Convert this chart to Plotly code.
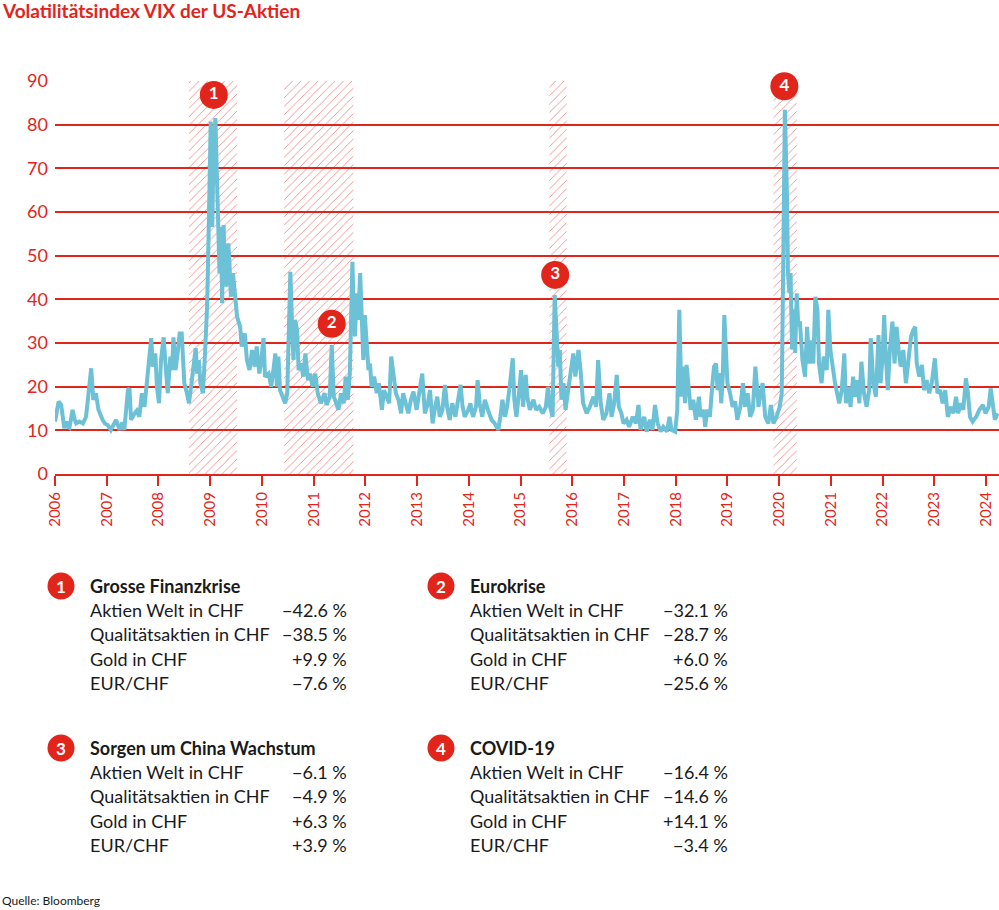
import plotly.graph_objects as go

RED = "#e1251b"
BLUE = "#6cc1d6"
INK = "#1a1a1a"
FONT = "Lato"

# ---- data: chart position (decimal year as placed on the chart) and VIX level ----
pos = [
    2006.00, 2006.03, 2006.07, 2006.12, 2006.18, 2006.22, 2006.25, 2006.28, 2006.34, 2006.38,
    2006.41, 2006.47, 2006.54, 2006.60, 2006.65, 2006.70, 2006.74, 2006.79, 2006.84, 2006.88,
    2006.92, 2006.97, 2007.02, 2007.08, 2007.13, 2007.18, 2007.25, 2007.30, 2007.34, 2007.41,
    2007.44, 2007.47, 2007.54, 2007.58, 2007.63, 2007.68, 2007.73, 2007.79, 2007.83, 2007.86,
    2007.89, 2007.94, 2007.97, 2008.01, 2008.05, 2008.10, 2008.14, 2008.18, 2008.23, 2008.26,
    2008.29, 2008.33, 2008.37, 2008.41, 2008.45, 2008.47, 2008.50, 2008.55, 2008.59, 2008.63,
    2008.68, 2008.72, 2008.75, 2008.78, 2008.81, 2008.86, 2008.90, 2008.94, 2008.96, 2008.99,
    2009.01, 2009.04, 2009.06, 2009.10, 2009.12, 2009.15, 2009.18, 2009.21, 2009.23, 2009.26,
    2009.28, 2009.31, 2009.35, 2009.37, 2009.40, 2009.44, 2009.48,
    2009.52, 2009.58, 2009.61, 2009.67, 2009.71, 2009.76, 2009.81, 2009.86, 2009.90, 2009.95,
    2009.99, 2010.03, 2010.06, 2010.13, 2010.18, 2010.23, 2010.26, 2010.29, 2010.32, 2010.35,
    2010.40, 2010.45, 2010.49, 2010.51, 2010.55, 2010.58, 2010.61, 2010.64, 2010.68, 2010.71,
    2010.76, 2010.80, 2010.84, 2010.89, 2010.93, 2010.98, 2011.03, 2011.08, 2011.14, 2011.21,
    2011.25, 2011.31, 2011.35, 2011.39, 2011.43, 2011.48, 2011.53, 2011.58, 2011.62, 2011.66,
    2011.70, 2011.72, 2011.75, 2011.77, 2011.80, 2011.83, 2011.86, 2011.90, 2011.93, 2011.96,
    2011.99, 2012.03, 2012.06, 2012.09, 2012.12, 2012.17, 2012.22, 2012.26, 2012.32, 2012.36,
    2012.41, 2012.46, 2012.50, 2012.54, 2012.59, 2012.64, 2012.69, 2012.73, 2012.78, 2012.83,
    2012.88, 2012.93, 2012.99,
    2013.10, 2013.15, 2013.21, 2013.25, 2013.30, 2013.34, 2013.39, 2013.44, 2013.49, 2013.54,
    2013.58, 2013.63, 2013.68, 2013.74, 2013.79, 2013.84, 2013.88, 2013.92, 2013.99, 2014.03,
    2014.08, 2014.14, 2014.17, 2014.21, 2014.26, 2014.31, 2014.37, 2014.44, 2014.50, 2014.57,
    2014.61, 2014.65, 2014.70, 2014.74, 2014.79, 2014.85, 2014.88, 2014.92, 2014.97, 2015.01,
    2015.05, 2015.10, 2015.13, 2015.18, 2015.25, 2015.30, 2015.36, 2015.43, 2015.49, 2015.53,
    2015.57, 2015.62, 2015.66, 2015.70, 2015.73, 2015.76, 2015.79, 2015.83, 2015.87, 2015.92,
    2015.97, 2016.02, 2016.06, 2016.12, 2016.16, 2016.21, 2016.28, 2016.34, 2016.41, 2016.46,
    2016.50, 2016.55, 2016.60, 2016.66, 2016.72, 2016.76, 2016.81, 2016.86, 2016.90, 2016.95,
    2016.99, 2017.05, 2017.10, 2017.17, 2017.23, 2017.28, 2017.32, 2017.39, 2017.44, 2017.50,
    2017.55, 2017.60, 2017.65, 2017.71, 2017.76, 2017.83, 2017.88, 2017.92, 2017.99, 2018.03,
    2018.07, 2018.11, 2018.15, 2018.18, 2018.21, 2018.25, 2018.29, 2018.34, 2018.39, 2018.45,
    2018.48, 2018.54, 2018.57, 2018.61, 2018.66, 2018.70, 2018.74, 2018.78, 2018.81, 2018.85,
    2018.88, 2018.91, 2018.94, 2018.97, 2019.00, 2019.05, 2019.10, 2019.15, 2019.19, 2019.25,
    2019.30, 2019.34, 2019.39, 2019.44, 2019.49, 2019.54, 2019.57, 2019.60, 2019.63, 2019.68,
    2019.73, 2019.79, 2019.84, 2019.89, 2019.95, 2020.01, 2020.05, 2020.06, 2020.07, 2020.08,
    2020.11, 2020.13, 2020.15, 2020.17, 2020.20, 2020.22, 2020.25, 2020.28, 2020.31, 2020.34,
    2020.37, 2020.40, 2020.45, 2020.50, 2020.54, 2020.58, 2020.63, 2020.66, 2020.70, 2020.74,
    2020.77, 2020.82, 2020.86, 2020.92, 2020.95, 2020.99, 2021.03, 2021.08, 2021.12, 2021.16,
    2021.21, 2021.26, 2021.29, 2021.34, 2021.38, 2021.43, 2021.47, 2021.51, 2021.55, 2021.59,
    2021.64, 2021.69, 2021.74, 2021.77, 2021.82, 2021.87, 2021.92, 2021.96, 2022.00, 2022.03,
    2022.06, 2022.10, 2022.14, 2022.19, 2022.23, 2022.27, 2022.31, 2022.35, 2022.40, 2022.45,
    2022.50, 2022.55, 2022.59, 2022.63, 2022.66, 2022.71, 2022.76, 2022.80, 2022.85, 2022.90,
    2022.95, 2023.01, 2023.06, 2023.11, 2023.16, 2023.21, 2023.26, 2023.32, 2023.37, 2023.42,
    2023.46, 2023.51, 2023.56, 2023.61, 2023.65, 2023.69, 2023.74, 2023.81, 2023.87, 2023.94,
    2023.99, 2024.05, 2024.09, 2024.13, 2024.17, 2024.22,
]

vix = [
    12.0, 14.5, 16.6, 15.8, 10.5, 12.0, 10.8, 10.6, 14.7, 12.5,
    11.6, 12.0, 11.6, 13.1, 18.5, 24.2, 17.0, 18.5, 14.7, 13.5,
    12.4, 11.5, 11.2, 10.1, 11.5, 12.4, 10.1, 11.8, 10.1, 19.2,
    19.6, 12.4, 13.9, 14.5, 13.1, 18.5, 15.4, 22.3, 26.9, 31.1,
    24.6, 27.6, 20.0, 16.2, 26.1, 31.3, 24.6, 18.5, 26.9, 23.8,
    31.3, 23.8, 27.6, 32.2, 32.2, 26.1, 20.8, 18.5, 16.2, 20.0,
    24.6, 28.8, 23.0, 26.1, 20.8, 18.5, 27.6, 38.3, 49.0, 70.4,
    80.7, 56.6, 70.4, 81.5, 70.4, 59.0, 46.0, 56.6, 39.1, 57.0,
    47.5, 42.9, 52.8, 49.0, 40.6, 46.0, 40.0,
    36.0, 33.7, 29.2, 32.2, 26.1, 23.8, 28.4, 24.6, 29.2, 23.0,
    26.1, 31.1, 22.3, 23.0, 20.0, 24.6, 27.6, 20.0, 26.9, 19.2,
    17.7, 16.2, 18.5, 27.6, 46.3, 35.3, 26.1, 35.3, 33.0, 23.8,
    25.3, 22.3, 27.6, 21.5, 23.0, 20.0, 23.0, 18.5, 16.2, 18.5,
    15.8, 17.7, 29.5, 17.7, 16.2, 14.7, 18.5, 16.2, 22.3, 17.0,
    23.0, 31.5, 48.6, 39.1, 31.5, 41.4, 35.3, 46.0, 31.5, 26.1,
    36.4, 29.2, 23.8, 25.3, 20.0, 22.3, 18.5, 20.8, 14.7, 19.2,
    17.7, 16.2, 26.9, 22.3, 18.5, 17.0, 13.9, 18.5, 16.2, 13.9,
    17.0, 18.9, 14.7,
    23.0, 13.9, 16.2, 19.2, 11.6, 14.7, 17.7, 13.1, 14.7, 20.4,
    15.4, 12.4, 16.2, 13.1, 17.0, 20.4, 15.4, 13.1, 14.7, 16.2,
    13.1, 15.4, 21.5, 16.2, 13.1, 17.0, 14.7, 12.4, 11.6, 10.1,
    13.1, 17.0, 13.1, 15.4, 20.0, 26.5, 17.0, 13.1, 18.5, 23.8,
    15.4, 22.7, 17.7, 14.7, 17.0, 14.7, 15.4, 13.9, 15.4, 20.0,
    15.4, 13.1, 41.0, 32.2, 24.6, 28.4, 17.0, 20.8, 14.7, 19.2,
    23.8, 27.6, 22.3, 28.4, 23.8, 16.2, 13.9, 15.4, 17.7, 15.4,
    26.1, 16.2, 12.4, 13.9, 18.5, 13.1, 16.2, 22.7, 15.4, 13.9,
    11.6, 12.4, 10.8, 13.1, 11.6, 15.8, 10.1, 13.1, 9.7, 12.4,
    10.1, 15.8, 11.6, 9.7, 10.8, 9.7, 13.1, 10.1, 9.7, 14.7,
    37.6, 17.7, 24.6, 16.2, 25.0, 19.2, 14.7, 17.0, 12.4, 17.7,
    13.1, 14.7, 10.8, 14.7, 13.1, 19.2, 24.6, 25.3, 19.2, 23.1,
    16.2, 22.3, 36.4, 28.4, 20.8, 18.5, 15.4, 16.6, 12.4, 15.4,
    20.8, 15.4, 18.5, 13.1, 14.7, 24.6, 20.0, 15.4, 17.7, 20.8,
    13.1, 11.6, 15.8, 11.6, 13.1, 15.4, 18.5, 25.0, 39.9, 49.0,
    83.4, 75.7, 64.3, 46.0, 41.4, 46.0, 28.5, 37.6, 27.7, 41.4,
    33.8, 35.0, 26.1, 22.3, 33.7, 25.3, 30.6, 25.3, 40.6, 37.6,
    25.3, 20.8, 26.9, 23.8, 37.6, 28.4, 24.6, 20.8, 18.5, 16.2,
    19.2, 27.6, 16.2, 20.0, 15.4, 22.3, 17.7, 21.5, 16.2, 25.7,
    18.5, 15.4, 19.2, 31.1, 20.8, 17.7, 31.8, 20.8, 26.9, 36.4,
    27.6, 19.2, 28.4, 34.9, 25.3, 33.7, 28.4, 24.6, 28.4, 20.8,
    26.1, 31.5, 32.9, 33.7, 25.3, 22.3, 25.0, 19.2, 21.5, 18.5,
    20.8, 26.5, 18.5, 19.2, 16.2, 19.2, 13.1, 15.4, 13.9, 17.7,
    13.9, 16.2, 14.7, 21.9, 18.5, 13.1, 12.0, 13.1, 14.7, 15.8,
    13.9, 15.4, 19.6, 15.4, 12.4, 13.9,
]

tick_years = list(range(2006, 2025))
tick_labels = [str(y) for y in tick_years]
y_ticks = [0, 10, 20, 30, 40, 50, 60, 70, 80, 90]

# crisis periods (hatched)
zone_start = [2008.59, 2010.43, 2015.56, 2019.89]
zone_end = [2009.52, 2011.77, 2015.89, 2020.34]

# numbered markers
event_labels = ["1", "2", "3", "4"]
event_x = [2009.07, 2011.35, 2015.67, 2020.10]
event_y = [86.8, 34.4, 45.6, 88.8]

# table below the chart
crisis_names = ["Grosse Finanzkrise", "Eurokrise", "Sorgen um China Wachstum", "COVID-19"]
asset_names = ["Aktien Welt in CHF", "Qualitätsaktien in CHF", "Gold in CHF", "EUR/CHF"]
perf_1 = ["−42.6 %", "−38.5 %", "+9.9 %", "−7.6 %"]
perf_2 = ["−32.1 %", "−28.7 %", "+6.0 %", "−25.6 %"]
perf_3 = ["−6.1 %", "−4.9 %", "+6.3 %", "+3.9 %"]
perf_4 = ["−16.4 %", "−14.6 %", "+14.1 %", "−3.4 %"]
perf = [perf_1, perf_2, perf_3, perf_4]

# ---- layout geometry (pixels) ----
W, H = 999, 910
ML, MT = 55, 81
PW, PH = 944, 393


def px_x(px):
    return (px - ML) / PW


def px_y(py):
    return (MT + PH - py) / PH


fig = go.Figure()

for s, e in zip(zone_start, zone_end):
    fig.add_trace(go.Scatter(
        x=[s, e, e, s, s], y=[0, 0, 90, 90, 0],
        mode="lines", line=dict(width=0), fill="toself",
        fillcolor="rgba(0,0,0,0)",
        fillpattern=dict(shape="/", fgcolor=RED, fgopacity=0.6,
                         bgcolor="rgba(255,255,255,0)", size=6, solidity=0.13),
        hoverinfo="skip", showlegend=False,
    ))

fig.add_trace(go.Scatter(
    x=pos, y=vix, mode="lines",
    line=dict(color=BLUE, width=4), showlegend=False,
))

fig.add_trace(go.Scatter(
    x=event_x, y=event_y, mode="markers+text",
    marker=dict(size=28, color=RED, line=dict(width=0)),
    text=[f"<b>{t}</b>" for t in event_labels], textposition="middle center",
    textfont=dict(color="white", size=17, family=FONT),
    cliponaxis=False, showlegend=False,
))

annotations = []
shapes = []

annotations.append(dict(
    text="<b>Volatilitätsindex VIX der US-Aktien</b>", x=px_x(0), y=px_y(10),
    xref="paper", yref="paper", xanchor="left", yanchor="middle", showarrow=False,
    font=dict(family=FONT, size=19, color=RED),
))
annotations.append(dict(
    text="Quelle: Bloomberg", x=px_x(0), y=px_y(901),
    xref="paper", yref="paper", xanchor="left", yanchor="middle", showarrow=False,
    font=dict(family=FONT, size=12, color=INK),
))

block_pos = [(61, 586, 88, 349), (441, 586, 468, 730), (61, 748, 88, 349), (441, 748, 468, 730)]
row_gap = 24.2
for k, (cx, cy, lx, rx) in enumerate(block_pos):
    r = 13.5
    shapes.append(dict(type="circle", xref="paper", yref="paper",
                       x0=px_x(cx - r), x1=px_x(cx + r), y0=px_y(cy + r), y1=px_y(cy - r),
                       fillcolor=RED, line=dict(width=0)))
    annotations.append(dict(
        text=f"<b>{event_labels[k]}</b>", x=px_x(cx), y=px_y(cy),
        xref="paper", yref="paper", xanchor="center", yanchor="middle", showarrow=False,
        font=dict(family=FONT, size=17, color="white"),
    ))
    annotations.append(dict(
        text=f"<b>{crisis_names[k]}</b>", x=px_x(lx), y=px_y(cy),
        xref="paper", yref="paper", xanchor="left", yanchor="middle", showarrow=False,
        font=dict(family=FONT, size=18, color=INK),
    ))
    for i, name in enumerate(asset_names):
        ry = cy + row_gap * (i + 1)
        annotations.append(dict(
            text=name, x=px_x(lx), y=px_y(ry),
            xref="paper", yref="paper", xanchor="left", yanchor="middle", showarrow=False,
            font=dict(family=FONT, size=18, color=INK),
        ))
        annotations.append(dict(
            text=perf[k][i], x=px_x(rx), y=px_y(ry),
            xref="paper", yref="paper", xanchor="right", yanchor="middle", showarrow=False,
            font=dict(family=FONT, size=18, color=INK),
        ))

fig.update_layout(
    width=W, height=H,
    margin=dict(l=ML, r=W - ML - PW, t=MT, b=H - MT - PH, pad=0),
    paper_bgcolor="white", plot_bgcolor="white",
    font=dict(family=FONT, color=RED),
    showlegend=False,
    annotations=annotations,
    shapes=shapes,
    xaxis=dict(
        range=[2006, 2024.25], tickmode="array", tickvals=tick_years, ticktext=tick_labels,
        tickangle=-90, ticks="outside", ticklen=10, tickwidth=2, tickcolor=RED,
        tickfont=dict(family=FONT, size=15, color=RED),
        showgrid=False, zeroline=False, showline=True, linecolor=RED, linewidth=2,
        fixedrange=True,
    ),
    yaxis=dict(
        range=[0, 90], tickmode="array", tickvals=y_ticks,
        ticks="", showgrid=True, gridcolor=RED, gridwidth=2,
        tickfont=dict(family=FONT, size=18, color=RED),
        zeroline=False, showline=False, ticklabelstandoff=6,
        fixedrange=True,
    ),
)

fig.write_html("out.html")
